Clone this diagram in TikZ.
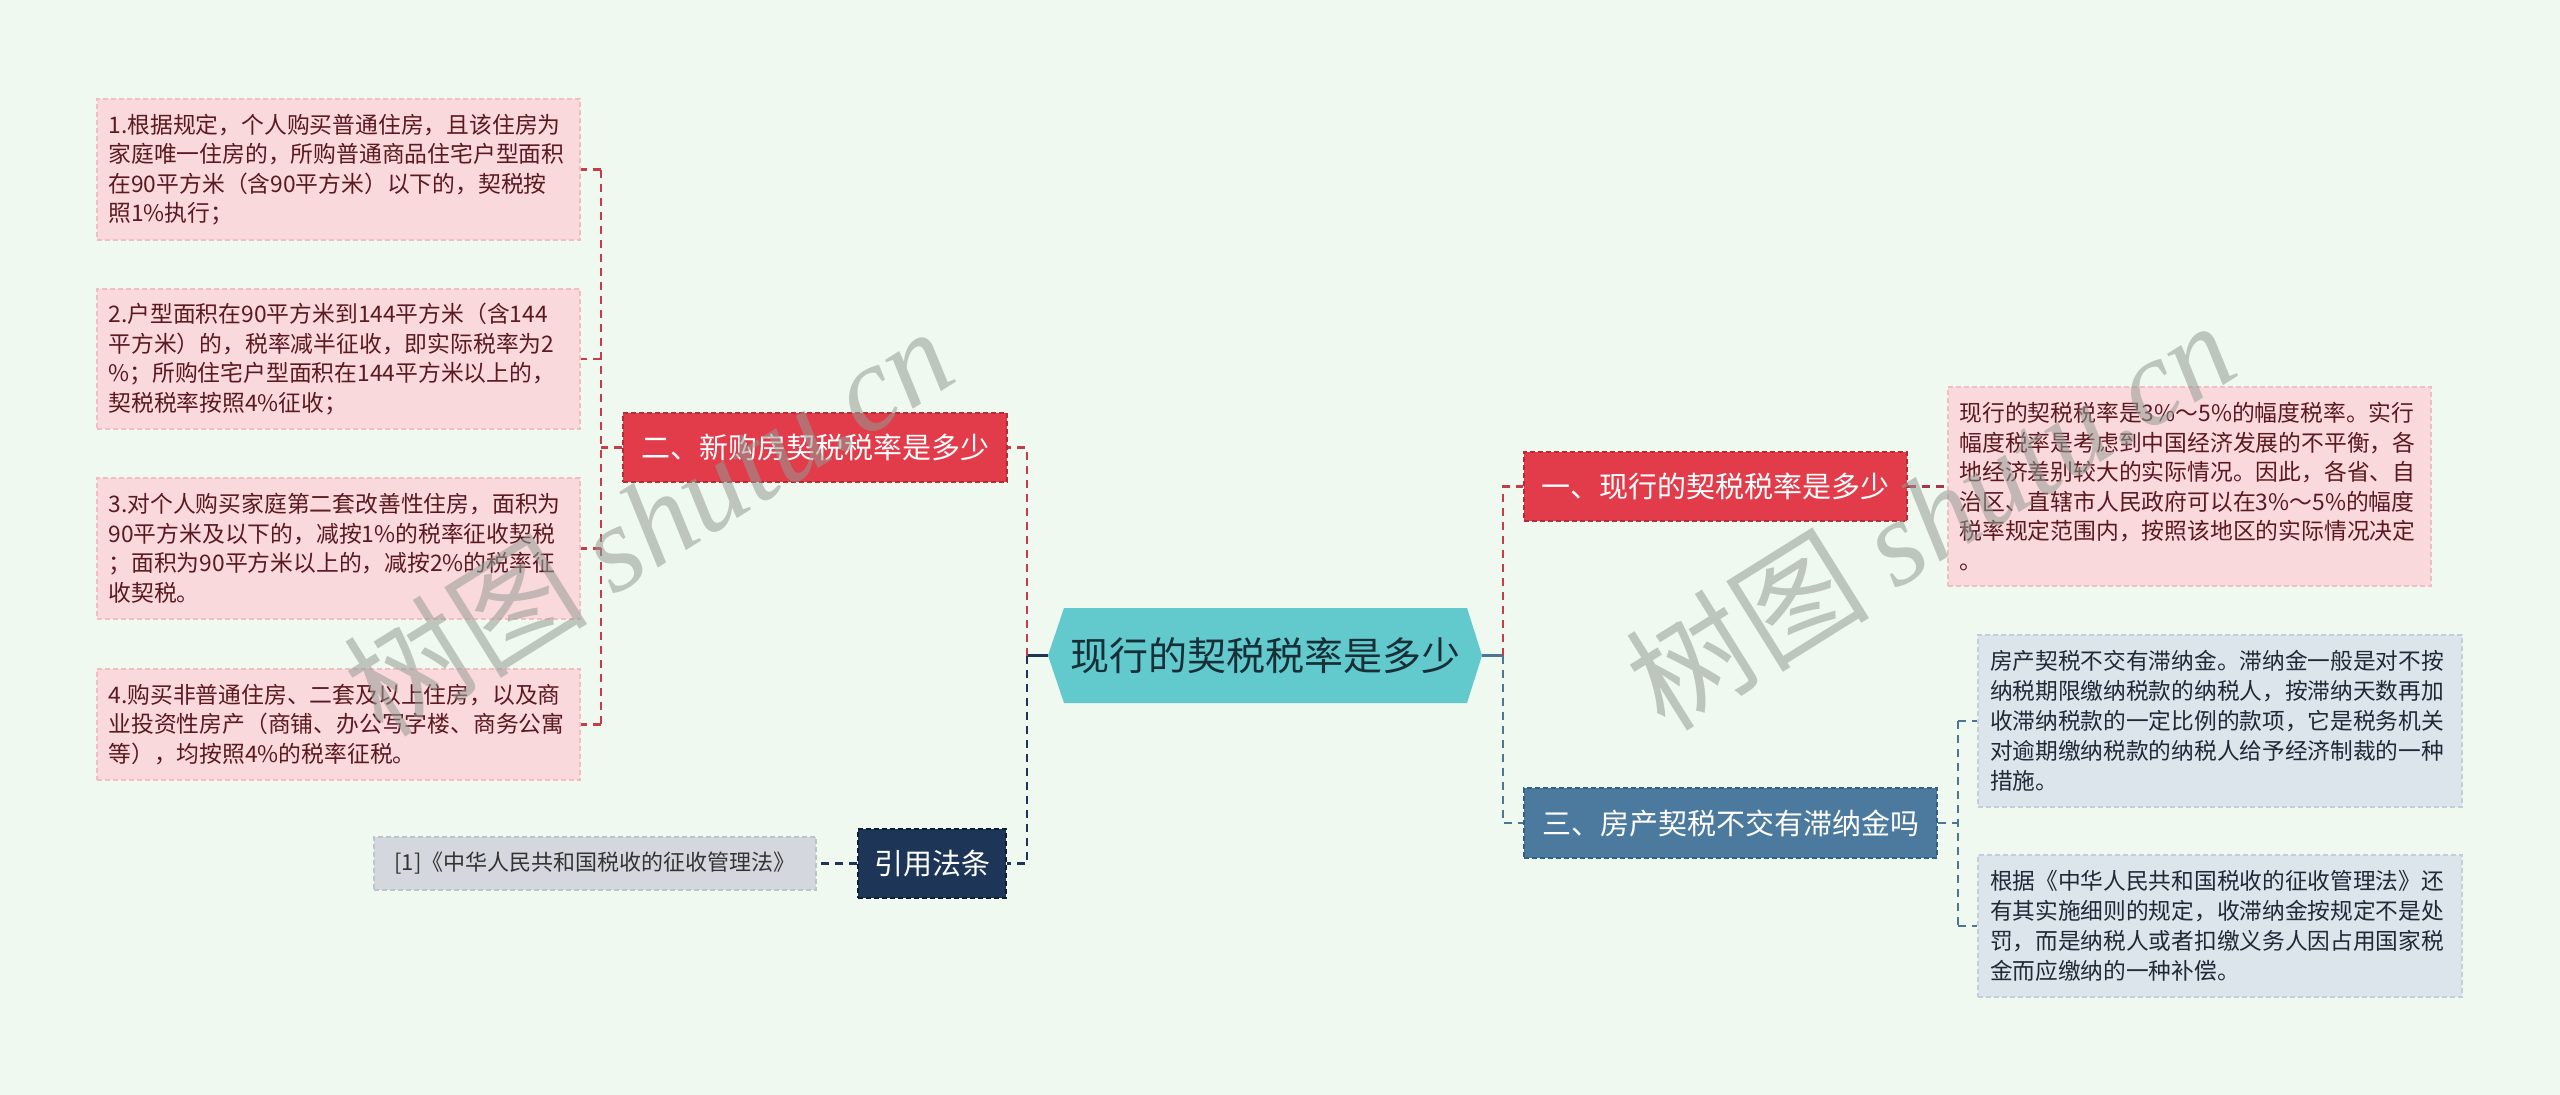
\documentclass[tikz,border=0pt]{standalone}
\usepackage{fontspec}
\setmainfont{Noto Sans CJK SC}
\newfontfamily\wmserif{Liberation Serif}
\usetikzlibrary{calc}
\definecolor{bgc}{HTML}{EFF9EF}
\definecolor{pinkfill}{HTML}{FAD9DC}
\definecolor{pinkdraw}{HTML}{F2BCC2}
\definecolor{pinktext}{HTML}{5A1A20}
\definecolor{redfill}{HTML}{E23B4A}
\definecolor{reddraw}{HTML}{B82A36}
\definecolor{bluefill}{HTML}{4B7A9E}
\definecolor{bluedraw}{HTML}{34607F}
\definecolor{navyfill}{HTML}{1D3557}
\definecolor{navydraw}{HTML}{0E1D33}
\definecolor{grayfill}{HTML}{D4D8DE}
\definecolor{graydraw}{HTML}{BEC3CA}
\definecolor{lbfill}{HTML}{DCE4EC}
\definecolor{lbdraw}{HTML}{C4CED9}
\definecolor{lbtext}{HTML}{1F2A36}
\definecolor{cenfill}{HTML}{62C9CC}
\definecolor{centext}{HTML}{173038}
\definecolor{linered}{HTML}{C63C48}
\definecolor{linemaroon}{HTML}{A8364A}
\definecolor{lineblue}{HTML}{4D7594}
\definecolor{linenavy}{HTML}{1D3557}
\definecolor{wmgray}{HTML}{949C94}
\tikzset{
  boxbase/.style={inner sep=0pt, line width=1.2pt, dash pattern=on 5pt off 3pt, align=left},
  leafpink/.style={boxbase, fill=pinkfill, draw=pinkdraw, text=pinktext, minimum width=483pt, text width=460pt, font=\fontsize{22.8}{29.5}\selectfont},
  leafblue/.style={boxbase, fill=lbfill, draw=lbdraw, text=lbtext, minimum width=484pt, text width=460pt, font=\fontsize{22.7}{30}\selectfont},
  leafgray/.style={boxbase, fill=grayfill, draw=graydraw, text=black!80, minimum width=442pt, minimum height=53pt, align=center, font=\fontsize{22}{26}\selectfont},
  topic/.style={inner sep=0pt, line width=1.2pt, dash pattern=on 5pt off 3pt, text=white, minimum height=69pt, font=\fontsize{29}{34}\selectfont},
  redtopic/.style={topic, fill=redfill, draw=reddraw},
  bluetopic/.style={topic, fill=bluefill, draw=bluedraw},
  navytopic/.style={topic, fill=navyfill, draw=navydraw},
  conn/.style={line width=2.4pt, dash pattern=on 8pt off 6pt},
  cred/.style={conn, draw=linered},
  cmaroon/.style={conn, draw=linemaroon},
  cblue/.style={conn, draw=lineblue},
  cnavy/.style={conn, draw=linenavy},
  wm/.style={text=wmgray, opacity=0.55, rotate=32, font=\fontsize{122}{122}\selectfont}
}
\begin{document}
\begin{tikzpicture}[x=1pt,y=-1pt]
\fill[bgc] (0,0) rectangle (2560,1095);
\useasboundingbox (0,0) rectangle (2560,1095);

% central hexagon
\fill[cenfill] (1048,655.5) -- (1064,608) -- (1467,608) -- (1482,655.5) -- (1467,703) -- (1064,703) -- cycle;
\node[inner sep=0pt, minimum width=434pt, minimum height=95pt, text=centext, font=\fontsize{39}{44}\selectfont] (root) at (1265,655.5) {现行的契税税率是多少};

% main topics
\node[redtopic, minimum width=384pt] (n2) at (815,447.5) {二、新购房契税税率是多少};
\node[redtopic, minimum width=383pt] (n1) at (1715.5,486.5) {一、现行的契税税率是多少};
\node[bluetopic, minimum width=413pt, minimum height=70pt] (n3) at (1730.5,823) {三、房产契税不交有滞纳金吗};
\node[navytopic, minimum width=148pt] (ref) at (932,863.5) {引用法条};

% left leaves
\node[leafpink, minimum height=141pt] (L1) at (338.5,169.5) {1.根据规定，个人购买普通住房，且该住房为\\家庭唯一住房的，所购普通商品住宅户型面积\\在90平方米（含90平方米）以下的，契税按\\照1\%执行；};
\node[leafpink, minimum height=140pt] (L2) at (338.5,359) {2.户型面积在90平方米到144平方米（含144\\平方米）的，税率减半征收，即实际税率为2\\\%；所购住宅户型面积在144平方米以上的，\\契税税率按照4\%征收；};
\node[leafpink, minimum height=141pt] (L3) at (338.5,548.5) {3.对个人购买家庭第二套改善性住房，面积为\\90平方米及以下的，减按1\%的税率征收契税\\；面积为90平方米以上的，减按2\%的税率征\\收契税。};
\node[leafpink, minimum height=111pt] (L4) at (338.5,724.5) {4.购买非普通住房、二套及以上住房，以及商\\业投资性房产（商铺、办公写字楼、商务公寓\\等），均按照4\%的税率征税。};

% reference leaf
\node[leafgray] (refleaf) at (595,863.5) {[1]《中华人民共和国税收的征收管理法》};

% right leaves
\node[leafpink, minimum height=199pt] (R1) at (2189.5,486.5) {现行的契税税率是3\%～5\%的幅度税率。实行\\幅度税率是考虑到中国经济发展的不平衡，各\\地经济差别较大的实际情况。因此，各省、自\\治区、直辖市人民政府可以在3\%～5\%的幅度\\税率规定范围内，按照该地区的实际情况决定\\。};
\node[leafblue, minimum height=172pt] (B1) at (2220,721) {房产契税不交有滞纳金。滞纳金一般是对不按\\纳税期限缴纳税款的纳税人，按滞纳天数再加\\收滞纳税款的一定比例的款项，它是税务机关\\对逾期缴纳税款的纳税人给予经济制裁的一种\\措施。};
\node[leafblue, minimum height=142pt] (B2) at (2220,926) {根据《中华人民共和国税收的征收管理法》还\\有其实施细则的规定，收滞纳金按规定不是处\\罚，而是纳税人或者扣缴义务人因占用国家税\\金而应缴纳的一种补偿。};

% connectors: left leaves
\coordinate (tl) at (601,447.5);
\draw[cred] (n2.west) -- (tl);
\draw[cred] (tl |- L1.east) -- (tl |- L4.east);
\foreach \i in {1,2,3,4} { \draw[cred] (tl |- L\i.east) -- (L\i.east); }

% connectors: center left
\coordinate (tc) at (1027,655.5);
\draw[linenavy, line width=2.4pt] (root.west) -- (tc);
\draw[cred] (tc) -- (tc |- n2.east) -- (n2.east);
\draw[cnavy] (tc) -- (tc |- ref.east) -- (ref.east);
\draw[cnavy] (ref.west) -- (refleaf.east);

% connectors: center right
\coordinate (tr) at (1503,655.5);
\draw[lineblue, line width=2.4pt] (root.east) -- (tr);
\draw[cred] (tr) -- (tr |- n1.west) -- (n1.west);
\draw[cblue] (tr) -- (tr |- n3.west) -- (n3.west);
\draw[cmaroon] (n1.east) -- (R1.west);

\coordinate (tb) at (1958,823);
\draw[cblue] (n3.east) -- (tb);
\draw[cblue] (tb |- B1.west) -- (tb |- B2.west);
\draw[cblue] (tb |- B1.west) -- (B1.west);
\draw[cblue] (tb |- B2.west) -- (B2.west);

% watermarks
\node[wm] (wm1) at (648,520) {树图 {\wmserif\itshape shutu.cn}};
\node[wm] (wm2) at (1930,514) {树图 {\wmserif\itshape shutu.cn}};
\end{tikzpicture}
\end{document}
